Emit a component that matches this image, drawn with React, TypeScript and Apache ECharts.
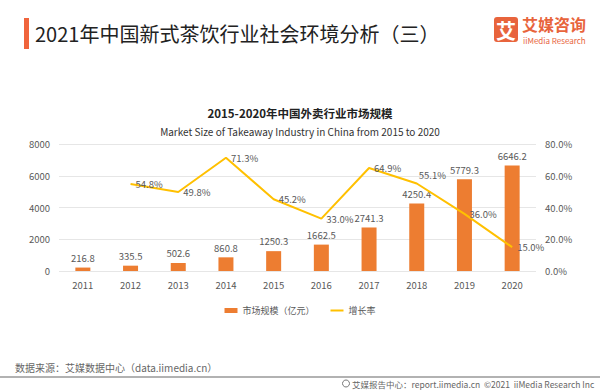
import React, { useEffect, useRef } from "react";
import * as echarts from "echarts";

const categories = ["2011", "2012", "2013", "2014", "2015", "2016", "2017", "2018", "2019", "2020"];
const marketSize = [216.8, 335.5, 502.6, 860.8, 1250.3, 1662.5, 2741.3, 4250.4, 5779.3, 6646.2];
const growthRate: (number | null)[] = [null, 54.8, 49.8, 71.3, 45.2, 33.0, 64.9, 55.1, 36.0, 15.0];
const leftTicks = { min: 0, max: 8000, interval: 2000 };
const rightTicks = { min: 0, max: 80, interval: 20 };

const FONT = "'Noto Sans CJK SC', 'Noto Sans', sans-serif";
const ORANGE = "#ED7D31";
const YELLOW = "#FFC000";
const LABEL = "#595959";
const FS = 9.5;

export default function App() {
  const ref = useRef<HTMLDivElement>(null);
  useEffect(() => {
    document.body.style.margin = "0";
    const chart = echarts.init(ref.current!, null, { renderer: "svg" });
    const option: any = {
      animation: false,
      backgroundColor: "#ffffff",
      textStyle: { fontFamily: FONT },
      title: [
        {
          text: "2015-2020年中国外卖行业市场规模",
          left: "center",
          top: 102,
          textStyle: { fontSize: 11.5, fontWeight: "bold", color: "#222", fontFamily: FONT },
        },
        {
          text: "Market Size of Takeaway Industry in China from 2015 to 2020",
          left: "center",
          top: 121,
          textStyle: { fontSize: 10, fontWeight: "normal", color: "#333", fontFamily: FONT },
        },
      ],
      grid: { left: 59, right: 64, top: 144, bottom: 119 },
      legend: {
        top: 301,
        left: "center",
        itemWidth: 13,
        itemHeight: 5,
        itemGap: 15,
        textStyle: { fontSize: 9, color: LABEL, fontFamily: FONT },
        data: [
          { name: "市场规模（亿元）", icon: "rect" },
          { name: "增长率", itemStyle: { opacity: 0 } },
        ],
      },
      xAxis: {
        type: "category",
        data: categories,
        axisLine: { show: false },
        axisTick: { show: false },
        axisLabel: { color: LABEL, fontSize: FS, margin: 9, fontFamily: FONT },
      },
      yAxis: [
        {
          type: "value",
          ...leftTicks,
          axisLine: { show: false },
          axisTick: { show: false },
          axisLabel: {
            color: LABEL,
            fontSize: FS,
            margin: 9,
            fontFamily: FONT,
            formatter: (v: number) => String(v),
          },
          splitLine: { lineStyle: { color: "#E6E6E6", width: 1 } },
        },
        {
          type: "value",
          ...rightTicks,
          axisLine: { show: false },
          axisTick: { show: false },
          axisLabel: {
            color: LABEL,
            fontSize: FS,
            margin: 9,
            fontFamily: FONT,
            formatter: (v: number) => v.toFixed(1) + "%",
          },
          splitLine: { show: false },
        },
      ],
      series: [
        {
          name: "市场规模（亿元）",
          type: "bar",
          data: marketSize,
          barWidth: 15,
          itemStyle: { color: ORANGE },
          label: {
            show: true,
            position: "top",
            distance: 5,
            color: LABEL,
            fontSize: FS,
            fontFamily: FONT,
            formatter: (p: any) => p.value.toFixed(1),
          },
        },
        {
          name: "增长率",
          type: "line",
          yAxisIndex: 1,
          z: 3,
          data: growthRate.map((v, i) =>
            v === null
              ? "-"
              : i === 7
              ? { value: v, label: { offset: [-3, -9] } }
              : v
          ),
          symbol: "circle",
          symbolSize: 0,
          itemStyle: { color: YELLOW },
          lineStyle: { color: YELLOW, width: 2 },
          label: {
            show: true,
            position: "right",
            distance: 5,
            color: LABEL,
            fontSize: FS,
            fontFamily: FONT,
            formatter: (p: any) => Number(p.value).toFixed(1) + "%",
          },
        },
      ],
      graphic: [
        { type: "rect", shape: { x: 24, y: 18, width: 5, height: 31 }, style: { fill: "#F0643C" } },
        {
          type: "text",
          x: 35,
          y: 33,
          style: {
            text: "2021年中国新式茶饮行业社会环境分析（三）",
            fontSize: 20,
            fill: "#222",
            fontFamily: FONT,
            verticalAlign: "middle",
          },
        },
        { type: "rect", shape: { x: 494, y: 17, width: 24, height: 25, r: 3 }, style: { fill: "#E8643C" } },
        {
          type: "text",
          x: 506,
          y: 30,
          style: {
            text: "艾",
            fontSize: 20,
            fontWeight: "bold",
            fill: "#ffffff",
            fontFamily: FONT,
            align: "center",
            verticalAlign: "middle",
          },
        },
        {
          type: "text",
          x: 522,
          y: 24,
          style: {
            text: "艾媒咨询",
            fontSize: 16,
            fontWeight: "bold",
            fill: "#E8643C",
            fontFamily: FONT,
            verticalAlign: "middle",
          },
        },
        {
          type: "text",
          x: 523,
          y: 40,
          style: {
            text: "iiMedia Research",
            fontSize: 8,
            fill: "#E8643C",
            fontFamily: FONT,
            verticalAlign: "middle",
          },
        },
        {
          type: "text",
          x: 15,
          y: 367,
          style: {
            text: "数据来源：艾媒数据中心（data.iimedia.cn）",
            fontSize: 10,
            fill: "#666",
            fontFamily: FONT,
            verticalAlign: "middle",
          },
        },
        { type: "line", shape: { x1: 0, y1: 377, x2: 600, y2: 377 }, style: { stroke: "#999", lineWidth: 1.5 } },
        { type: "circle", shape: { cx: 346, cy: 383.5, r: 3.5 }, style: { fill: "none", stroke: "#777", lineWidth: 1 } },
        {
          type: "text",
          x: 352,
          y: 383.5,
          style: {
            text: "艾媒报告中心：report.iimedia.cn  ©2021  iiMedia Research Inc",
            fontSize: 8.5,
            fill: "#666",
            fontFamily: FONT,
            verticalAlign: "middle",
          },
        },
      ],
    };
    chart.setOption(option);
    return () => chart.dispose();
  }, []);
  return <div ref={ref} style={{ width: 600, height: 390 }} />;
}
